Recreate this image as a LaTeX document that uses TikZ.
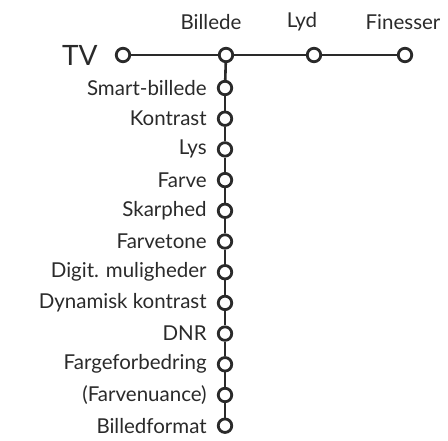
\documentclass[tikz,border=0pt]{standalone}
\usepackage{fontspec}
\setmainfont{Lato}
\usetikzlibrary{positioning}
\definecolor{menugray}{HTML}{2A2A2A}
\begin{document}
\begin{tikzpicture}[x=1pt,y=-1pt,
  knob/.style={circle,draw=menugray,line width=2.8pt,fill=white,minimum size=13.5pt,inner sep=0pt},
  bar/.style={draw=menugray,line width=2.6pt},
  item/.style={text=menugray,font=\fontsize{20.5}{24}\selectfont,inner sep=0pt}]
\useasboundingbox (0,0) rectangle (448,440);

% Main menu bar
\node[knob] (tv) at (123,55) {};
\node[knob] (billede) at (226,55) {};
\node[knob] (lyd) at (314,55) {};
\node[knob] (finesser) at (405,55) {};
\draw[bar] (tv) -- (billede) -- (lyd) -- (finesser);

% Labels of the main menu
\node[item,font=\fontsize{28}{31}\selectfont,left=17pt of tv] (tvlab) {TV};
\node[item] (billedelab) at (211,22) {Billede};
\node[item] (lydlab) at (302,22) {Lyd};
\node[item] (finesserlab) at (403,22) {Finesser};

% Picture submenu
\foreach \name [count=\i] in {Smart-billede,Kontrast,Lys,Farve,Skarphed,Farvetone,
    Digit. muligheder,Dynamisk kontrast,DNR,Fargeforbedring,{(Farvenuance)},Billedformat}{
  \node[knob] (sub\i) at (225,{88+(\i-1)*30.7}) {};
  \node[item,left=10pt of sub\i] (sublab\i) {\name};
}
\draw[bar] (billede) -- (sub1);
\foreach \i in {2,...,12}{
  \pgfmathtruncatemacro{\prev}{\i-1}
  \draw[bar] (sub\prev) -- (sub\i);
}
\end{tikzpicture}
\end{document}
